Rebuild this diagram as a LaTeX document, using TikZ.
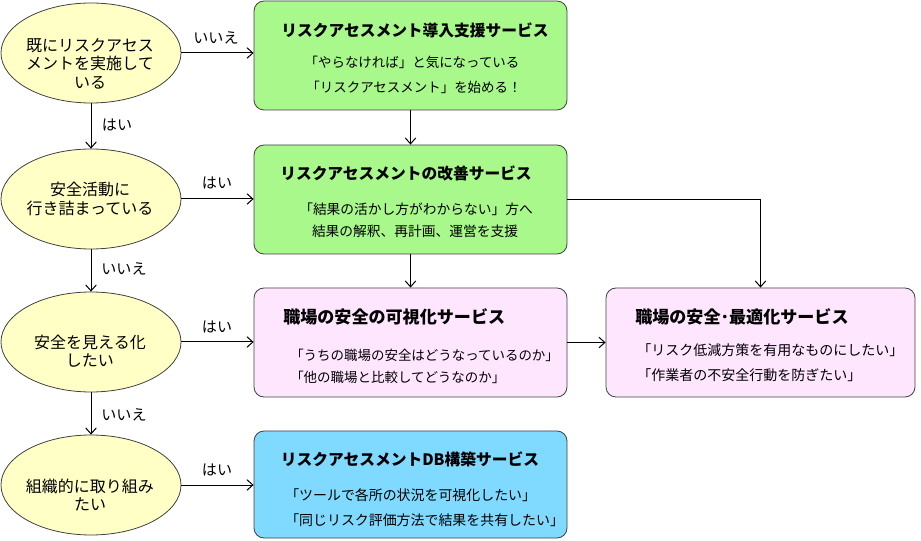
\documentclass[tikz,border=0pt]{standalone}
\usepackage{fontspec}
\setmainfont{Noto Sans CJK JP}
\usetikzlibrary{arrows.meta,shapes.geometric}
\definecolor{gfill}{HTML}{A8F88C}
\definecolor{pfill}{HTML}{FFE6FF}
\definecolor{bfill}{HTML}{80DAFF}
\definecolor{efill}{HTML}{FFFFC6}
\definecolor{edgec}{HTML}{404040}
\begin{document}
\begin{tikzpicture}[x=0.75pt,y=-0.75pt,
  q/.style={ellipse, draw=edgec, fill=efill, minimum width=135pt, minimum height=75pt, inner sep=0pt, line width=0.6pt},
  svc/.style={draw=edgec, rounded corners=7.5pt, minimum width=234.75pt, minimum height=81.75pt, line width=0.6pt, inner sep=0pt},
  ttl/.style={font=\fontsize{11.8pt}{14pt}\selectfont\bfseries, inner sep=0pt},
  ttlk/.style={font=\fontsize{12.8pt}{14pt}\selectfont\bfseries, inner sep=0pt},
  txt/.style={font=\fontsize{10.1pt}{12pt}\selectfont, inner sep=0pt},
  txtw/.style={font=\fontsize{10.5pt}{12pt}\selectfont, inner sep=0pt},
  qt/.style={font=\fontsize{12pt}{13.9pt}\selectfont, align=center, inner sep=0pt},
  lbl/.style={font=\fontsize{11.3pt}{13pt}\selectfont, inner sep=0pt},
  arr/.style={-{Straight Barb[length=4.5pt,width=8pt]}, line width=0.75pt}]
\useasboundingbox (0,0) rectangle (921,541);
% questions
\node[q] (e1) at (91,53) {};
\node[qt] (t1) at (90,63.5) {既にリスクアセス\\メントを実施して\\いる};
\node[q] (e2) at (91,199) {};
\node[qt] (t2) at (90,199) {安全活動に\\行き詰まっている};
\node[q] (e3) at (91,342) {};
\node[qt] (t3) at (90,351) {安全を見える化\\したい};
\node[q] (e4) at (91,485) {};
\node[qt] (t4) at (90,495) {組織的に取り組み\\たい};
% services
\node[svc, fill=gfill] (b1) at (410.5,55.5) {};
\node[ttl] (b1t) at (415,30) {リスクアセスメント導入支援サービス};
\node[txt] (b1a) at (412,62) {「やらなければ」と気になっている};
\node[txt] (b1b) at (414,87) {「リスクアセスメント」を始める！};
\node[svc, fill=gfill] (b2) at (410.5,199.5) {};
\node[ttl] (b2t) at (406,173) {リスクアセスメントの改善サービス};
\node[txt, font=\fontsize{10.3pt}{12pt}\selectfont] (b2a) at (416,209) {「結果の活かし方がわからない」方へ};
\node[txt, font=\fontsize{10.3pt}{12pt}\selectfont] (b2b) at (415,231) {結果の解釈、再計画、運営を支援};
\node[svc, fill=pfill] (b3) at (410.5,342.5) {};
\node[ttlk, anchor=west] (b3t) at (283,317) {職場の安全の可視化サービス};
\node[txt, anchor=west] (b3a) at (290,355) {「うちの職場の安全はどうなっているのか」};
\node[txt, anchor=west] (b3b) at (290,377) {「他の職場と比較してどうなのか」};
\node[svc, fill=pfill, minimum width=231.75pt] (b4) at (760.5,342.5) {};
\node[ttlk, anchor=west] (b4t) at (635,317) {職場の安全･最適化サービス};
\node[txtw, anchor=west] (b4a) at (637,350) {「リスク低減方策を有用なものにしたい」};
\node[txtw, anchor=west] (b4b) at (637,375) {「作業者の不安全行動を防ぎたい」};
\node[svc, fill=bfill, minimum height=80.25pt] (b5) at (410.5,484.5) {};
\node[ttl] (b5t) at (410,459) {リスクアセスメントDB構築サービス};
\node[txt, anchor=west, font=\fontsize{10.45pt}{12pt}\selectfont] (b5a) at (285,495) {「ツールで各所の状況を可視化したい」};
\node[txt, anchor=west, font=\fontsize{10.45pt}{12pt}\selectfont] (b5b) at (285,520) {「同じリスク評価方法で結果を共有したい」};
% connectors
\draw[arr] (e1.east) -- (e1.east -| b1.west);
\draw[arr] (e2.east) -- (e2.east -| b2.west);
\draw[arr] (e3.east) -- (e3.east -| b3.west);
\draw[arr] (e4.east) -- (e4.east -| b5.west);
\draw[arr] (e1.south) -- (e2.north);
\draw[arr] (e2.south) -- (e3.north);
\draw[arr] (e3.south) -- (e4.north);
\draw[arr] (b1.south) -- (b2.north);
\draw[arr] (b2.south) -- (b3.north);
\draw[arr] (b2.east) -| (b4.north);
\draw[arr] (b3.east) -- (b4.west);
% labels
\node[lbl] (l1) at (216,38) {いいえ};
\node[lbl] (l2) at (117,125) {はい};
\node[lbl] (l3) at (217,183) {はい};
\node[lbl] (l4) at (124,269) {いいえ};
\node[lbl] (l5) at (217,327) {はい};
\node[lbl] (l6) at (124,415) {いいえ};
\node[lbl] (l7) at (217,470) {はい};
\end{tikzpicture}
\end{document}
